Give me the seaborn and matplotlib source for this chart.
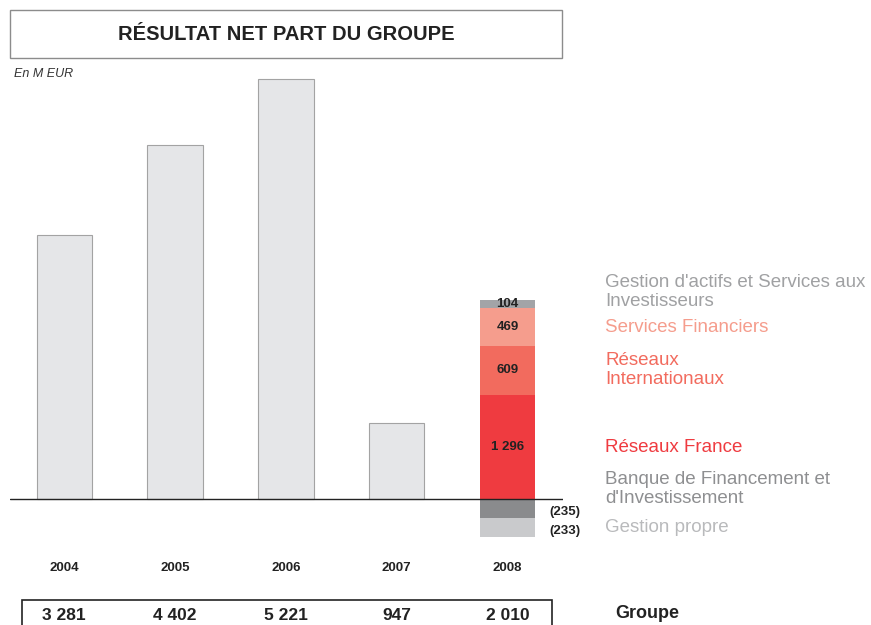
import matplotlib
matplotlib.use("Agg")
import matplotlib.pyplot as plt
from matplotlib.patches import Rectangle
from matplotlib.transforms import blended_transform_factory
import pandas as pd
import seaborn as sns

# Group net income, M EUR
years = ["2004", "2005", "2006", "2007", "2008"]
group_totals = [3281, 4402, 5221, 947, 2010]
total_labels = ["3 281", "4 402", "5 221", "947", "2 010"]

# 2008 breakdown by business line
seg_names = ["Réseaux France", "Réseaux\nInternationaux", "Services Financiers",
             "Gestion d'actifs et Services aux\nInvestisseurs",
             "Banque de Financement et\nd'Investissement", "Gestion propre"]
seg_values = [1296, 609, 469, 104, -235, -233]
seg_labels = ["1 296", "609", "469", "104", "(235)", "(233)"]
seg_colors = ["#ef3b40", "#f26b5e", "#f59d8d", "#a2a4a7", "#8a8b8d", "#c9cacc"]
legend_colors = ["#ef3b40", "#f26b5e", "#f59d8d", "#a0a1a3", "#8e8f91", "#b9babc"]

sns.set_style("white")
plt.rcParams["font.family"] = ["Liberation Sans", "DejaVu Sans"]

W, H = 871, 625
fig = plt.figure(figsize=(W / 100, H / 100), dpi=100)


def fx(px):
    return px / W


def fy(py):
    return 1 - py / H


ax = fig.add_axes([fx(10), fy(545), fx(553), (545 - 75) / H])

hist = pd.DataFrame({"year": years[:4], "value": group_totals[:4]})
sns.barplot(data=hist, x="year", y="value", order=years, width=0.5,
            color="#e5e6e8", edgecolor="#a3a3a3", linewidth=0.8,
            saturation=1, ax=ax)

# stacked 2008 bar
pos, neg = 0, 0
for v, lab, c in zip(seg_values, seg_labels, seg_colors):
    if v >= 0:
        ax.bar(4, v, bottom=pos, width=0.5, color=c, linewidth=0)
        ax.text(4, pos + v / 2, lab, ha="center", va="center",
                fontsize=9.5, fontweight="bold", color="#222222")
        pos += v
    else:
        ax.bar(4, v, bottom=neg, width=0.5, color=c, linewidth=0)
        ax.text(4.52, neg + v / 2 - 50, lab, ha="center", va="center",
                fontsize=9.5, fontweight="bold", color="#222222")
        neg += v

ax.axhline(0, color="#222222", linewidth=1.0, zorder=5)
ax.set_xlim(-0.49, 4.5)
ax.set_ylim(-572, 5271)
ax.set_yticks([])
ax.set_xlabel("")
ax.set_ylabel("")
ax.tick_params(axis="x", length=0, pad=12)
ax.set_xticks(range(len(years)))
ax.set_xticklabels(years, fontsize=9.5, fontweight="bold", color="#222222")
sns.despine(ax=ax, left=True, bottom=True)

# title box
fig.patches.append(Rectangle((fx(10), fy(58)), fx(552), (58 - 10) / H,
                             transform=fig.transFigure, fill=False,
                             edgecolor="#8c8c8c", linewidth=1.0))
fig.text(fx(286), fy(34), "RÉSULTAT NET PART DU GROUPE", ha="center", va="center",
         fontsize=14.5, fontweight="bold", color="#222222")
fig.text(fx(14), fy(74), "En M EUR", ha="left", va="center", fontsize=9,
         style="italic", color="#333333")

# legend labels
legend_y = [448, 370, 328, 292, 489, 527]
for name, c, yy in zip(seg_names, legend_colors, legend_y):
    fig.text(fx(605), fy(yy), name, ha="left", va="center", fontsize=13.5,
             color=c, linespacing=1.2)

# group totals box
fig.patches.append(Rectangle((fx(22), fy(640)), fx(530), (640 - 600) / H,
                             transform=fig.transFigure, fill=False,
                             edgecolor="#222222", linewidth=1.2, clip_on=False))
tr = blended_transform_factory(ax.transData, fig.transFigure)
for i, lab in enumerate(total_labels):
    ax.text(i, fy(616), lab, transform=tr, ha="center", va="center",
            fontsize=12.5, fontweight="bold", color="#222222", clip_on=False)
fig.text(fx(615), fy(613), "Groupe", ha="left", va="center", fontsize=13,
         fontweight="bold", color="#222222")

fig.savefig("out.png", dpi=100)
